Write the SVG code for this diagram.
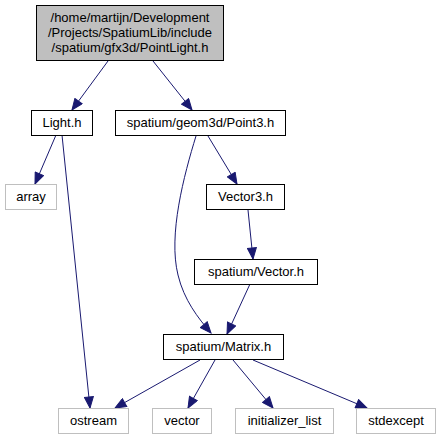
<svg xmlns="http://www.w3.org/2000/svg" width="441" height="440" viewBox="0 0 441 440">
<style>
.n rect{fill:#fff;stroke:#000;stroke-width:1}
.n.ext rect{stroke:#bfbfbf}
.n.root rect{fill:#bfbfbf}
.n text{font-family:"Liberation Sans",Arial,sans-serif;font-size:13px;fill:#000;text-anchor:middle}
.e path{fill:none;stroke:#191970;stroke-width:1;marker-end:url(#ah)}
</style>
<defs>
<marker id="ah" markerUnits="userSpaceOnUse" markerWidth="13" markerHeight="10" refX="11" refY="4.5" orient="auto" viewBox="-1 -0.5 13 10">
<path d="M0,0 L11,4.5 L0,9 z" fill="#191970" stroke="#191970" stroke-width="1"/>
</marker>
</defs>
<rect width="441" height="440" fill="#fff"/>
<g id="edges" class="e">
<path d="M108,61 L72,110"/>
<path d="M153,61 L192,110"/>
<path d="M56,135 L35,184"/>
<path d="M62,135 L90,408"/>
<path d="M196,136 C184,175 168,235 178,275 C184,300 198,318 211,333"/>
<path d="M208,136 L237,184"/>
<path d="M248,210 L253,259"/>
<path d="M250,284 L227,334"/>
<path d="M200,360 L115,408"/>
<path d="M215,360 L188,408"/>
<path d="M233,360 L273,408"/>
<path d="M253,360 L367,408"/>
</g>
<g id="node-root" class="n root">
<rect x="36.5" y="5.5" width="187" height="55"/>
<text x="130" y="22">/home/martijn/Development</text>
<text x="130" y="37">/Projects/SpatiumLib/include</text>
<text x="130" y="52">/spatium/gfx3d/PointLight.h</text>
</g>
<g id="node-light" class="n">
<rect x="31.5" y="110.5" width="61" height="25"/>
<text x="62" y="127">Light.h</text>
</g>
<g id="node-point3" class="n">
<rect x="115.5" y="110.5" width="170" height="25"/>
<text x="200.5" y="127">spatium/geom3d/Point3.h</text>
</g>
<g id="node-array" class="n ext">
<rect x="5.5" y="184.5" width="51" height="25"/>
<text x="31" y="201">array</text>
</g>
<g id="node-vector3" class="n">
<rect x="206.5" y="184.5" width="78" height="25"/>
<text x="245.5" y="201">Vector3.h</text>
</g>
<g id="node-vectorh" class="n">
<rect x="194.5" y="259.5" width="123" height="25"/>
<text x="256" y="276">spatium/Vector.h</text>
</g>
<g id="node-matrix" class="n">
<rect x="163.5" y="334.5" width="120" height="25"/>
<text x="223.5" y="351">spatium/Matrix.h</text>
</g>
<g id="node-ostream" class="n ext">
<rect x="58.5" y="408.5" width="70" height="25"/>
<text x="93.5" y="425">ostream</text>
</g>
<g id="node-vector" class="n ext">
<rect x="152.5" y="408.5" width="59" height="25"/>
<text x="182" y="425">vector</text>
</g>
<g id="node-initlist" class="n ext">
<rect x="235.5" y="408.5" width="98" height="25"/>
<text x="284.5" y="425">initializer_list</text>
</g>
<g id="node-stdexcept" class="n ext">
<rect x="356.5" y="408.5" width="79" height="25"/>
<text x="396" y="425">stdexcept</text>
</g>
</svg>
